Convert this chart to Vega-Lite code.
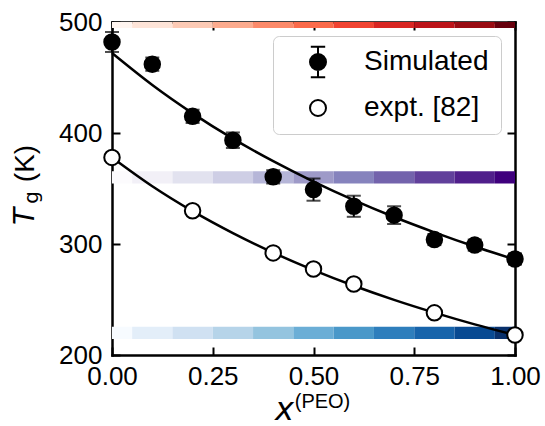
{
  "$schema": "https://vega.github.io/schema/vega-lite/v6.json",
  "width": 403,
  "height": 333,
  "autosize": {"type": "none"},
  "padding": {"left": 112, "top": 22, "right": 30, "bottom": 71},
  "background": "white",
  "config": {
    "view": {"stroke": null},
    "font": "Liberation Sans",
    "axis": {
      "grid": false,
      "domainColor": "black",
      "domainWidth": 2.5,
      "domainCap": "square",
      "tickColor": "black",
      "tickWidth": 2,
      "tickSize": -8,
      "labelFlush": false,
      "labelFont": "Liberation Sans",
      "labelFontSize": 26,
      "labelColor": "black",
      "titleColor": "black",
      "titleFontWeight": "normal"
    }
  },
  "datasets": {
    "bands": [
      {"x": 0.0, "level": 500}, {"x": 0.1, "level": 500}, {"x": 0.2, "level": 500}, {"x": 0.3, "level": 500},
      {"x": 0.4, "level": 500}, {"x": 0.5, "level": 500}, {"x": 0.6, "level": 500}, {"x": 0.7, "level": 500},
      {"x": 0.8, "level": 500}, {"x": 0.9, "level": 500}, {"x": 1.0, "level": 500},
      {"x": 0.0, "level": 360}, {"x": 0.1, "level": 360}, {"x": 0.2, "level": 360}, {"x": 0.3, "level": 360},
      {"x": 0.4, "level": 360}, {"x": 0.5, "level": 360}, {"x": 0.6, "level": 360}, {"x": 0.7, "level": 360},
      {"x": 0.8, "level": 360}, {"x": 0.9, "level": 360}, {"x": 1.0, "level": 360},
      {"x": 0.0, "level": 220}, {"x": 0.1, "level": 220}, {"x": 0.2, "level": 220}, {"x": 0.3, "level": 220},
      {"x": 0.4, "level": 220}, {"x": 0.5, "level": 220}, {"x": 0.6, "level": 220}, {"x": 0.7, "level": 220},
      {"x": 0.8, "level": 220}, {"x": 0.9, "level": 220}, {"x": 1.0, "level": 220}
    ],
    "points": [
      {"series": "Simulated", "x": 0.0, "Tg": 482, "err": 9},
      {"series": "Simulated", "x": 0.1, "Tg": 462, "err": 6},
      {"series": "Simulated", "x": 0.2, "Tg": 415, "err": 6},
      {"series": "Simulated", "x": 0.3, "Tg": 393.5, "err": 7},
      {"series": "Simulated", "x": 0.4, "Tg": 360.5, "err": 6},
      {"series": "Simulated", "x": 0.5, "Tg": 349, "err": 10},
      {"series": "Simulated", "x": 0.6, "Tg": 334, "err": 9.5},
      {"series": "Simulated", "x": 0.7, "Tg": 326, "err": 8},
      {"series": "Simulated", "x": 0.8, "Tg": 304, "err": 5},
      {"series": "Simulated", "x": 0.9, "Tg": 299, "err": 5},
      {"series": "Simulated", "x": 1.0, "Tg": 286.5, "err": 5},
      {"series": "expt. [82]", "x": 0.0, "Tg": 378, "err": 0},
      {"series": "expt. [82]", "x": 0.2, "Tg": 330, "err": 0},
      {"series": "expt. [82]", "x": 0.4, "Tg": 292, "err": 0},
      {"series": "expt. [82]", "x": 0.5, "Tg": 277.5, "err": 0},
      {"series": "expt. [82]", "x": 0.6, "Tg": 264, "err": 0},
      {"series": "expt. [82]", "x": 0.8, "Tg": 238, "err": 0},
      {"series": "expt. [82]", "x": 1.0, "Tg": 218, "err": 0}
    ],
    "curves": [
      {"series": "sim", "x": 0.0, "Tg": 472}, {"series": "sim", "x": 0.1, "Tg": 443.2},
      {"series": "sim", "x": 0.2, "Tg": 417.7}, {"series": "sim", "x": 0.3, "Tg": 394.9},
      {"series": "sim", "x": 0.4, "Tg": 374.6}, {"series": "sim", "x": 0.5, "Tg": 356.2},
      {"series": "sim", "x": 0.6, "Tg": 339.5}, {"series": "sim", "x": 0.7, "Tg": 324.3},
      {"series": "sim", "x": 0.8, "Tg": 310.5}, {"series": "sim", "x": 0.9, "Tg": 297.7},
      {"series": "sim", "x": 1.0, "Tg": 286},
      {"series": "exp", "x": 0.0, "Tg": 378}, {"series": "exp", "x": 0.1, "Tg": 352.1},
      {"series": "exp", "x": 0.2, "Tg": 329.6}, {"series": "exp", "x": 0.3, "Tg": 309.8},
      {"series": "exp", "x": 0.4, "Tg": 292.2}, {"series": "exp", "x": 0.5, "Tg": 276.5},
      {"series": "exp", "x": 0.6, "Tg": 262.4}, {"series": "exp", "x": 0.7, "Tg": 249.7},
      {"series": "exp", "x": 0.8, "Tg": 238.2}, {"series": "exp", "x": 0.9, "Tg": 227.6},
      {"series": "exp", "x": 1.0, "Tg": 218}
    ]
  },
  "resolve": {
    "axis": {"x": "independent", "y": "independent"},
    "scale": {"color": "independent"}
  },
  "layer": [
    {
      "data": {"name": "bands"},
      "transform": [
        {"filter": "datum.level === 500"},
        {"calculate": "datum.x - 0.05", "as": "x1"},
        {"calculate": "datum.x + 0.05", "as": "x2"},
        {"calculate": "datum.level - 5.5", "as": "y1"},
        {"calculate": "datum.level + 5.5", "as": "y2"}
      ],
      "mark": {"type": "rect", "clip": true},
      "encoding": {
        "x": {"field": "x1", "type": "quantitative", "scale": {"domain": [0, 1], "nice": false, "zero": false},
          "axis": {"orient": "bottom", "values": [0, 0.25, 0.5, 0.75, 1], "format": ".2f", "labelPadding": 16,
            "title": "x", "titleFont": "DejaVu Sans", "titleFontStyle": "italic", "titleFontSize": 32,
            "titleX": 172, "titleY": 64, "titleAlign": "center", "titleBaseline": "alphabetic", "titleAngle": 0}},
        "x2": {"field": "x2"},
        "y": {"field": "y1", "type": "quantitative", "scale": {"domain": [200, 500], "nice": false, "zero": false},
          "axis": {"orient": "left", "values": [200, 300, 400, 500], "labelPadding": 18,
            "title": "T", "titleFont": "DejaVu Sans", "titleFontStyle": "italic", "titleFontSize": 28,
            "titleX": -79, "titleY": 194, "titleAlign": "center", "titleBaseline": "alphabetic", "titleAngle": 270}},
        "y2": {"field": "y2"},
        "color": {"field": "x", "type": "quantitative", "legend": null,
          "scale": {"domain": [0, 1], "interpolate": "rgb",
            "range": ["#fff5f0", "#fee0d2", "#fcbba1", "#fc9272", "#fb6a4a", "#ef3b2c", "#cb181d", "#a50f15", "#67000d"]}}
      }
    },
    {
      "data": {"name": "bands"},
      "transform": [
        {"filter": "datum.level === 360"},
        {"calculate": "datum.x - 0.05", "as": "x1"},
        {"calculate": "datum.x + 0.05", "as": "x2"},
        {"calculate": "datum.level - 5.5", "as": "y1"},
        {"calculate": "datum.level + 5.5", "as": "y2"}
      ],
      "mark": {"type": "rect", "clip": true},
      "encoding": {
        "x": {"field": "x1", "type": "quantitative", "scale": {"domain": [0, 1], "nice": false, "zero": false}, "axis": null},
        "x2": {"field": "x2"},
        "y": {"field": "y1", "type": "quantitative", "scale": {"domain": [200, 500], "nice": false, "zero": false}, "axis": null},
        "y2": {"field": "y2"},
        "color": {"field": "x", "type": "quantitative", "legend": null,
          "scale": {"domain": [0, 1], "interpolate": "rgb",
            "range": ["#fcfbfd", "#efedf5", "#dadaeb", "#bcbddc", "#9e9ac8", "#807dba", "#6a51a3", "#54278f", "#3f007d"]}}
      }
    },
    {
      "data": {"name": "bands"},
      "transform": [
        {"filter": "datum.level === 220"},
        {"calculate": "datum.x - 0.05", "as": "x1"},
        {"calculate": "datum.x + 0.05", "as": "x2"},
        {"calculate": "datum.level - 5.5", "as": "y1"},
        {"calculate": "datum.level + 5.5", "as": "y2"}
      ],
      "mark": {"type": "rect", "clip": true},
      "encoding": {
        "x": {"field": "x1", "type": "quantitative", "scale": {"domain": [0, 1], "nice": false, "zero": false}, "axis": null},
        "x2": {"field": "x2"},
        "y": {"field": "y1", "type": "quantitative", "scale": {"domain": [200, 500], "nice": false, "zero": false}, "axis": null},
        "y2": {"field": "y2"},
        "color": {"field": "x", "type": "quantitative", "legend": null,
          "scale": {"domain": [0, 1], "interpolate": "rgb",
            "range": ["#f7fbff", "#deebf7", "#c6dbef", "#9ecae1", "#6baed6", "#4292c6", "#2171b5", "#08519c", "#08306b"]}}
      }
    },
    {
      "data": {"name": "curves"},
      "mark": {"type": "line", "color": "black", "strokeWidth": 2.5, "interpolate": "monotone"},
      "encoding": {
        "x": {"field": "x", "type": "quantitative", "scale": {"domain": [0, 1], "nice": false, "zero": false},
          "axis": {"orient": "top", "values": [0, 0.25, 0.5, 0.75, 1], "labels": false,
            "title": "(PEO)", "titleFont": "Liberation Sans", "titleFontSize": 20,
            "titleX": 210, "titleY": 385, "titleAlign": "center", "titleBaseline": "alphabetic", "titleAngle": 0}},
        "y": {"field": "Tg", "type": "quantitative", "scale": {"domain": [200, 500], "nice": false, "zero": false},
          "axis": {"orient": "right", "values": [200, 300, 400, 500], "labels": false,
            "title": "(K)", "titleFont": "Liberation Sans", "titleFontSize": 28,
            "titleX": -482, "titleY": 141, "titleAlign": "center", "titleBaseline": "alphabetic", "titleAngle": 270}},
        "detail": {"field": "series", "type": "nominal"}
      }
    },
    {
      "data": {"name": "points"},
      "transform": [{"filter": "datum.series === 'Simulated'"}],
      "mark": {"type": "errorbar", "ticks": {"size": 14, "thickness": 2, "color": "black"}, "rule": {"strokeWidth": 2, "color": "black"}},
      "encoding": {
        "x": {"field": "x", "type": "quantitative", "scale": {"domain": [0, 1], "nice": false, "zero": false}, "axis": null},
        "y": {"field": "Tg", "type": "quantitative", "scale": {"domain": [200, 500], "nice": false, "zero": false}, "axis": null},
        "yError": {"field": "err"}
      }
    },
    {
      "data": {"name": "points"},
      "mark": {"type": "circle", "size": 240, "stroke": "black", "strokeWidth": 2, "opacity": 1},
      "encoding": {
        "x": {"field": "x", "type": "quantitative", "scale": {"domain": [0, 1], "nice": false, "zero": false}, "axis": null},
        "y": {"field": "Tg", "type": "quantitative", "scale": {"domain": [200, 500], "nice": false, "zero": false},
          "axis": {"orient": "left", "domain": false, "ticks": false, "labels": false,
            "title": "g", "titleFont": "DejaVu Sans", "titleFontSize": 20,
            "titleX": -75, "titleY": 175, "titleAlign": "center", "titleBaseline": "alphabetic", "titleAngle": 270}},
        "fill": {"condition": {"test": "datum.series === 'Simulated'", "value": "black"}, "value": "white"}
      }
    },
    {
      "data": {"name": "points"},
      "transform": [{"filter": "false"}],
      "mark": {"type": "point", "filled": true, "size": 256, "stroke": "black", "strokeWidth": 2, "opacity": 1},
      "encoding": {
        "x": {"field": "x", "type": "quantitative", "scale": {"domain": [0, 1], "nice": false, "zero": false}, "axis": null},
        "y": {"field": "Tg", "type": "quantitative", "scale": {"domain": [200, 500], "nice": false, "zero": false}, "axis": null},
        "stroke": {"value": "black"},
        "fill": {"field": "series", "type": "nominal",
          "scale": {"domain": ["Simulated", "expt. [82]"], "range": ["black", "white"]},
          "legend": {
            "title": null, "orient": "top-right", "offset": 14, "padding": 12,
            "labelFont": "Liberation Sans", "labelFontSize": 28, "labelColor": "black",
            "symbolSize": 256, "symbolStrokeWidth": 2, "symbolOpacity": 1,
            "symbolOffset": 19, "labelOffset": 32, "rowPadding": 12,
            "fillColor": "white", "strokeColor": "#cccccc", "cornerRadius": 6,
            "encode": {"symbols": {"stroke": {"value": "black"}, "strokeWidth": {"value": 2}}}
          }},
        "shape": {"field": "series", "type": "nominal",
          "scale": {"domain": ["Simulated", "expt. [82]"],
            "range": ["M0,-1.9L0,1.9M-0.9,-1.9L0.9,-1.9M-0.9,1.9L0.9,1.9M1,0A1,1,0,1,1,-1,0A1,1,0,1,1,1,0Z", "circle"]},
          "legend": {
            "title": null, "orient": "top-right", "offset": 14, "padding": 12,
            "labelFont": "Liberation Sans", "labelFontSize": 28, "labelColor": "black",
            "symbolSize": 256, "symbolStrokeWidth": 2, "symbolOpacity": 1,
            "symbolOffset": 19, "labelOffset": 32, "rowPadding": 12,
            "fillColor": "white", "strokeColor": "#cccccc", "cornerRadius": 6,
            "encode": {"symbols": {"stroke": {"value": "black"}, "strokeWidth": {"value": 2}}}
          }}
      }
    }
  ]
}
